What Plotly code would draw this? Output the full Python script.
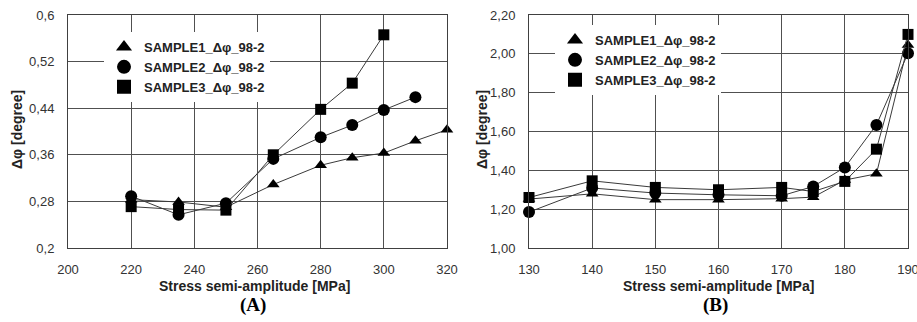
import plotly.graph_objects as go

# ---- Panel A data ----
a_x1 = [220, 235, 250, 265, 280, 290, 300, 310, 320]
a_s1 = [0.283, 0.279, 0.270, 0.309, 0.342, 0.355, 0.363, 0.384, 0.403]
a_x2 = [220, 235, 250, 265, 280, 290, 300, 310]
a_s2 = [0.289, 0.257, 0.277, 0.353, 0.390, 0.411, 0.437, 0.459]
a_x3 = [220, 235, 250, 265, 280, 290, 300]
a_s3 = [0.271, 0.266, 0.265, 0.360, 0.438, 0.483, 0.566]

# ---- Panel B data ----
b_x = [130, 140, 150, 160, 170, 175, 180, 185, 190]
b_s1 = [1.252, 1.279, 1.249, 1.249, 1.254, 1.262, 1.350, 1.382, 2.046]
b_s2 = [1.185, 1.309, 1.283, 1.274, 1.269, 1.317, 1.415, 1.634, 2.003]
b_s3 = [1.260, 1.346, 1.312, 1.300, 1.312, 1.291, 1.343, 1.509, 2.100]

names = ["SAMPLE1_Δφ_98-2", "SAMPLE2_Δφ_98-2", "SAMPLE3_Δφ_98-2"]
symbols = ["triangle-up", "circle", "square"]

a_yticks = [0.2, 0.28, 0.36, 0.44, 0.52, 0.6]
a_yticktext = ["0,2", "0,28", "0,36", "0,44", "0,52", "0,6"]
a_xticks = [200, 220, 240, 260, 280, 300, 320]
b_yticks = [1.0, 1.2, 1.4, 1.6, 1.8, 2.0, 2.2]
b_yticktext = ["1,00", "1,20", "1,40", "1,60", "1,80", "2,00", "2,20"]
b_xticks = [130, 140, 150, 160, 170, 180, 190]

xlabel = "Stress semi-amplitude [MPa]"
ylabel = "Δφ [degree]"

W, H = 917, 322
fig = go.Figure()

line_c = "#3a3a3a"
msize = [11, 12, 11]

a_series = [(a_x1, a_s1), (a_x2, a_s2), (a_x3, a_s3)]
for i, (xs, ys) in enumerate(a_series):
    fig.add_trace(go.Scatter(x=xs, y=ys, mode="lines+markers", xaxis="x", yaxis="y",
                             line=dict(color=line_c, width=1),
                             marker=dict(symbol=symbols[i], size=msize[i], color="black"),
                             showlegend=False, cliponaxis=False))
b_series = [b_s1, b_s2, b_s3]
for i, ys in enumerate(b_series):
    fig.add_trace(go.Scatter(x=b_x, y=ys, mode="lines+markers", xaxis="x2", yaxis="y2",
                             line=dict(color=line_c, width=1),
                             marker=dict(symbol=symbols[i], size=msize[i], color="black"),
                             showlegend=False, cliponaxis=False))
# legend entries (markers only)
for i in range(3):
    fig.add_trace(go.Scatter(x=[None], y=[None], mode="markers", xaxis="x", yaxis="y",
                             marker=dict(symbol=symbols[i], size=14, color="black"),
                             name=names[i], legend="legend"))
for i in range(3):
    fig.add_trace(go.Scatter(x=[None], y=[None], mode="markers", xaxis="x2", yaxis="y2",
                             marker=dict(symbol=symbols[i], size=14, color="black"),
                             name=names[i], legend="legend2"))

def px(x):
    return x / W

def py(y):
    return 1 - y / H

tickfont = dict(family="Liberation Sans, Arial", size=13, color="#333333")
axis_common = dict(showgrid=True, gridcolor="#505050", gridwidth=1,
                   showline=True, linecolor="#404040", linewidth=1, mirror=True,
                   ticks="", zeroline=False, tickfont=tickfont, automargin=False,
                   ticklabeloverflow="allow")

legfont = dict(family="Liberation Sans, Arial", size=13, color="#222222", weight="bold")
fig.update_layout(
    width=W, height=H,
    margin=dict(l=0, r=0, t=0, b=0, autoexpand=False),
    paper_bgcolor="white", plot_bgcolor="white",
    separators=",.",
    xaxis=dict(domain=[px(68), px(447)], range=[200, 320], tickvals=a_xticks,
               anchor="y", ticklabelstandoff=9, **axis_common),
    yaxis=dict(domain=[py(248), py(15)], range=[0.2, 0.6], tickvals=a_yticks,
               ticktext=a_yticktext, anchor="x", ticklabelstandoff=10, **axis_common),
    xaxis2=dict(domain=[px(529), px(908)], range=[130, 190], tickvals=b_xticks,
                anchor="y2", ticklabelstandoff=9, **axis_common),
    yaxis2=dict(domain=[py(248), py(15)], range=[1.0, 2.2], tickvals=b_yticks,
                ticktext=b_yticktext, anchor="x2", ticklabelstandoff=10, **axis_common),
    legend=dict(x=px(104), y=py(67), xanchor="left", yanchor="middle",
                bgcolor="white", borderwidth=0, font=legfont,
                tracegroupgap=0, itemwidth=30),
    legend2=dict(x=px(555), y=py(60), xanchor="left", yanchor="middle",
                 bgcolor="white", borderwidth=0, font=legfont,
                 tracegroupgap=0, itemwidth=30),
)

title_font = dict(family="Liberation Sans, Arial", size=14, color="#222222", weight="bold")
label_font = dict(family="Liberation Serif, Times New Roman", size=19, color="black", weight="bold")
annos = [
    dict(text=xlabel, x=px(254), y=py(286), font=title_font),
    dict(text=xlabel, x=px(718), y=py(286), font=title_font),
    dict(text=ylabel, x=px(17), y=py(130), font=title_font, textangle=-90),
    dict(text=ylabel, x=px(482), y=py(130), font=title_font, textangle=-90),
    dict(text="(A)", x=px(253), y=py(305), font=label_font),
    dict(text="(B)", x=px(715), y=py(305), font=label_font),
]
for a in annos:
    fig.add_annotation(xref="paper", yref="paper", showarrow=False,
                       xanchor="center", yanchor="middle", **a)

fig.write_html("out.html")
